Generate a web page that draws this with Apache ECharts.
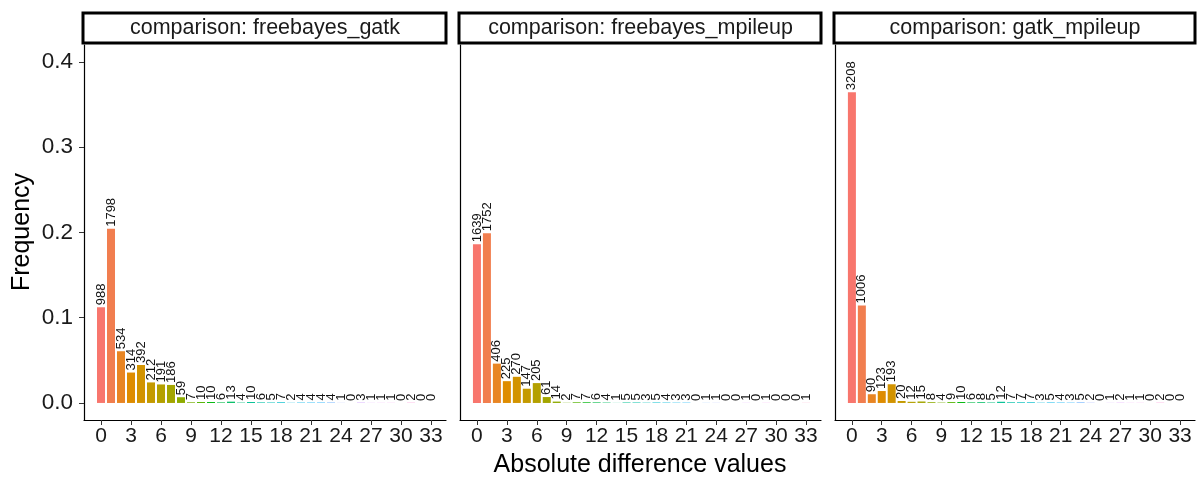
<!DOCTYPE html>
<html>
<head>
<meta charset="utf-8">
<script src="https://cdn.jsdelivr.net/npm/echarts@6/dist/echarts.min.js"></script>
<style>
  html, body { margin: 0; padding: 0; background: #fff; }
  #chart { width: 1201px; height: 477px; }
</style>
</head>
<body>
<div id="chart"></div>
<script>
// data
const diffValues = [0,1,2,3,4,5,6,7,8,9,10,11,12,13,14,15,16,17,18,19,20,21,22,23,24,25,26,27,28,29,30,31,32,33];
const panelNames = ['comparison: freebayes_gatk', 'comparison: freebayes_mpileup', 'comparison: gatk_mpileup'];
const countsFreebayesGatk = [988,1798,534,314,392,212,191,186,59,7,10,10,6,13,4,10,6,5,7,2,4,4,4,4,1,0,3,1,1,1,0,2,0,0];
const countsFreebayesMpileup = [1639,1752,406,225,270,147,205,61,14,2,7,7,6,4,1,5,5,3,5,4,3,3,0,1,1,0,0,1,0,1,0,0,0,1];
const countsGatkMpileup = [3208,1006,90,123,193,20,12,15,8,4,9,10,6,8,5,12,7,7,7,3,5,4,3,5,2,0,1,2,1,1,0,2,0,0];
const totalVariants = 8800; // denominator used for the frequency
const xTicks = [0,3,6,9,12,15,18,21,24,27,30,33];
const yTicks = [0, 0.1, 0.2, 0.3, 0.4];

const allCounts = [countsFreebayesGatk, countsFreebayesMpileup, countsGatkMpileup];

// ggplot-like hue palette (hcl, c=100, l=65)
function hcl(h, c, l) {
  const hr = h * Math.PI / 180;
  const U = c * Math.cos(hr), V = c * Math.sin(hr);
  const Y = l > 8 ? Math.pow((l + 16) / 116, 3) : l / 903.3;
  const un = 0.1978398, vn = 0.4683363;
  const u = U / (13 * l) + un, v = V / (13 * l) + vn;
  const X = 9 * Y * u / (4 * v);
  const Z = -X / 3 - 5 * Y + 3 * Y / v;
  const lin = [
    3.240479 * X - 1.537150 * Y - 0.498535 * Z,
    -0.969256 * X + 1.875992 * Y + 0.041556 * Z,
    0.055648 * X - 0.204043 * Y + 1.057311 * Z
  ];
  return '#' + lin.map(function (t) {
    t = t <= 0.0031308 ? 12.92 * t : 1.055 * Math.pow(t, 1 / 2.4) - 0.055;
    t = Math.max(0, Math.min(1, t));
    return Math.round(t * 255).toString(16).padStart(2, '0');
  }).join('');
}
const nLevels = 35;
const colors = diffValues.map((d, i) => hcl(15 + i * 360 / nLevels, 100, 65));

const font = '"Liberation Sans", Arial, sans-serif';
const panels = [
  { left: 84, width: 362 },
  { left: 460, width: 361 },
  { left: 835, width: 360 }
];
const gridTop = 45;
const gridHeight = 375;

const chart = echarts.init(document.getElementById('chart'));

const grids = panels.map(p => ({ left: p.left, top: gridTop, width: p.width, height: gridHeight }));

const xAxes = panels.map((p, i) => ({
  type: 'value',
  gridIndex: i,
  min: -1.7,
  max: 34.5,
  axisLine: { show: true, onZero: false, lineStyle: { color: '#000', width: 1.2 } },
  axisTick: { show: true, length: 5, customValues: xTicks, lineStyle: { color: '#333' } },
  axisLabel: { customValues: xTicks, color: '#1a1a1a', fontSize: 21, fontFamily: font, margin: 6 },
  splitLine: { show: false }
}));

const yAxes = panels.map((p, i) => ({
  type: 'value',
  gridIndex: i,
  min: -0.02,
  max: 0.42,
  axisLine: { show: true, onZero: false, lineStyle: { color: '#000', width: 1.2 } },
  axisTick: { show: i === 0, length: 5, customValues: yTicks, lineStyle: { color: '#333' } },
  axisLabel: {
    show: i === 0, customValues: yTicks, color: '#1a1a1a', fontSize: 22.5, fontFamily: font, margin: 11,
    formatter: v => v.toFixed(1)
  },
  splitLine: { show: false }
}));

const series = allCounts.map((counts, p) => ({
  type: 'bar',
  xAxisIndex: p,
  yAxisIndex: p,
  barWidth: 8,
  data: counts.map((c, i) => ({
    value: [diffValues[i], c / totalVariants],
    count: c,
    itemStyle: { color: colors[i] }
  })),
  label: {
    show: true,
    position: 'top',
    rotate: 90,
    align: 'left',
    verticalAlign: 'middle',
    distance: 2,
    color: '#111',
    fontSize: 13,
    fontFamily: font,
    formatter: prm => String(prm.data.count)
  },
  animation: false
}));

const graphics = [];
panels.forEach((p, i) => {
  graphics.push({
    type: 'rect',
    shape: { x: p.left - 1, y: 13, width: p.width + 1, height: 30 },
    style: { fill: '#fff', stroke: '#000', lineWidth: 3 }
  });
  graphics.push({
    type: 'text',
    x: p.left + p.width / 2,
    y: 28,
    style: { text: panelNames[i], fill: '#1a1a1a', font: '21.5px ' + font, textAlign: 'center', textVerticalAlign: 'middle' }
  });
});
graphics.push({
  type: 'text',
  x: 640, y: 465,
  style: { text: 'Absolute difference values', fill: '#000', font: '25px ' + font, textAlign: 'center', textVerticalAlign: 'middle' }
});
graphics.push({
  type: 'text',
  x: 22, y: 232,
  rotation: Math.PI / 2,
  style: { text: 'Frequency', fill: '#000', font: '25px ' + font, textAlign: 'center', textVerticalAlign: 'middle' }
});

chart.setOption({
  animation: false,
  grid: grids,
  xAxis: xAxes,
  yAxis: yAxes,
  series: series,
  graphic: graphics
});
</script>
</body>
</html>
